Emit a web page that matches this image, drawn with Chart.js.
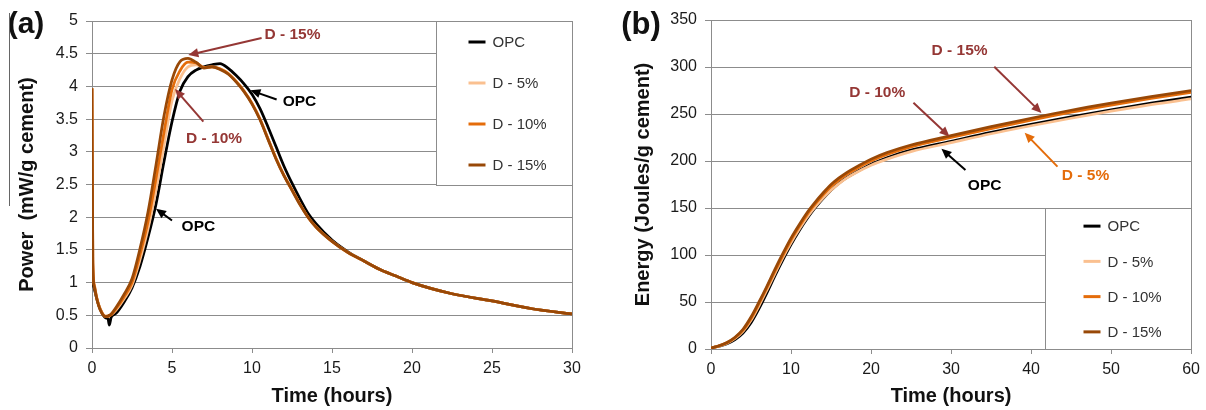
<!DOCTYPE html>
<html>
<head>
<meta charset="utf-8">
<script src="https://cdn.jsdelivr.net/npm/chart.js@4.4.1/dist/chart.umd.min.js"></script>
<style>
html,body{margin:0;padding:0;background:#fff;}
#wrap{position:relative;width:1206px;height:410px;overflow:hidden;}
.panel{position:absolute;top:0;width:603px;height:410px;}
#panelA{left:0;}
#panelB{left:603px;}
</style>
</head>
<body>
<div id="wrap">
  <div class="panel" id="panelA"><canvas id="powerChart" width="603" height="410"></canvas></div>
  <div class="panel" id="panelB"><canvas id="energyChart" width="603" height="410"></canvas></div>
</div>
<script>
const FONT = '"Liberation Sans", Arial, sans-serif';
const GRID = "#8c8c8c";

const seriesNames = ["OPC", "D - 5%", "D - 10%", "D - 15%"];
const seriesColors = ["#000000", "#FAC090", "#E46C0A", "#984807"];

// --- (a) heat flow, mW/g cement ---
const powerTime = [0, 0.05, 0.15, 0.3, 0.5, 0.85, 1.0, 1.08, 1.2, 1.5, 2, 2.5, 3, 3.5, 4, 4.5, 5, 5.5, 6, 6.5, 7, 7.5, 8, 8.5, 9, 9.5, 10, 10.5, 11, 11.5, 12, 12.5, 13, 13.5, 14, 15, 16, 17, 18, 19, 20, 22.5, 25, 27.5, 30];
const powerOPC = [1.1, 1.0, 0.9, 0.75, 0.6, 0.46, 0.45, 0.35, 0.47, 0.53, 0.7, 0.92, 1.25, 1.69, 2.2, 2.85, 3.46, 3.93, 4.15, 4.25, 4.3, 4.33, 4.35, 4.28, 4.17, 4.04, 3.88, 3.66, 3.38, 3.08, 2.78, 2.52, 2.28, 2.06, 1.9, 1.65, 1.47, 1.33, 1.2, 1.1, 1.0, 0.83, 0.72, 0.6, 0.52];
const powerD5 = [3.97, 1.4, 0.97, 0.77, 0.61, 0.49, 0.49, 0.5, 0.51, 0.58, 0.75, 0.96, 1.35, 1.82, 2.42, 3.1, 3.78, 4.12, 4.3, 4.33, 4.29, 4.3, 4.27, 4.2, 4.08, 3.93, 3.74, 3.5, 3.2, 2.9, 2.64, 2.42, 2.2, 2.0, 1.85, 1.63, 1.46, 1.33, 1.2, 1.1, 1.0, 0.83, 0.72, 0.6, 0.52];
const powerD10 = [3.97, 1.35, 0.95, 0.76, 0.6, 0.48, 0.485, 0.49, 0.51, 0.6, 0.78, 1.0, 1.43, 1.93, 2.59, 3.3, 3.95, 4.24, 4.37, 4.36, 4.29, 4.3, 4.27, 4.2, 4.08, 3.93, 3.74, 3.5, 3.2, 2.9, 2.64, 2.42, 2.2, 2.0, 1.85, 1.63, 1.46, 1.33, 1.2, 1.1, 1.0, 0.83, 0.72, 0.6, 0.52];
const powerD15 = [3.97, 1.3, 0.93, 0.75, 0.59, 0.48, 0.49, 0.5, 0.52, 0.62, 0.82, 1.06, 1.52, 2.08, 2.8, 3.55, 4.1, 4.38, 4.43, 4.37, 4.28, 4.3, 4.26, 4.19, 4.07, 3.92, 3.73, 3.49, 3.19, 2.89, 2.63, 2.41, 2.19, 2.0, 1.85, 1.63, 1.46, 1.33, 1.2, 1.1, 1.0, 0.83, 0.72, 0.6, 0.52];
const powerTicks = [0, 0.5, 1, 1.5, 2, 2.5, 3, 3.5, 4, 4.5, 5];
const hourTicksA = [0, 5, 10, 15, 20, 25, 30];

// --- (b) cumulative heat, J/g cement ---
const energyTime = [0, 1, 2, 3, 4, 5, 6, 7, 8, 9, 10, 11, 12, 13, 14, 15, 16, 17, 18, 20, 22, 25, 30, 35, 40, 45, 50, 55, 60];
const energyOPC = [1, 3, 5.6, 10, 17, 28, 43, 60, 78, 95, 111, 125.5, 138.5, 150, 160, 169, 176.5, 182.5, 187.5, 196.5, 203.5, 211.5, 221, 230.5, 239, 247, 254.5, 261.5, 268];
const energyD5 = [1, 3.2, 6.2, 11.2, 18.8, 30.5, 46, 63, 80.5, 97.5, 113, 127, 140, 151, 160.5, 169, 176, 182, 187, 195.5, 202, 210, 219.5, 229, 237.5, 245.5, 253, 260, 266];
const energyD10 = [1, 3.3, 6.6, 12, 20, 32.5, 48.5, 65.5, 83, 100, 116, 130, 143, 154, 164, 173, 180, 186, 191, 200, 207, 215, 225, 234.5, 243.5, 252, 259.5, 266.5, 273];
const energyD15 = [1, 3.5, 7, 12.5, 21, 34, 50, 67, 85, 102, 118, 132, 145, 156, 166, 175, 182, 188, 193, 202, 209, 217, 227, 236.5, 245.5, 254, 261.5, 268.5, 275];
const energyTicks = [0, 50, 100, 150, 200, 250, 300, 350];
const hourTicksB = [0, 10, 20, 30, 40, 50, 60];

// callouts, in data units: label centre, arrow start, arrow tip
const notesA = [
  { text: "D - 15%", color: "#953735", at: [12.53, 4.79], from: [10.6, 4.74], to: [6.02, 4.48] },
  { text: "OPC", color: "#000000", at: [12.97, 3.77], from: [11.54, 3.8], to: [9.9, 3.94] },
  { text: "D - 10%", color: "#953735", at: [7.63, 3.2], from: [6.96, 3.46], to: [5.19, 3.96] },
  { text: "OPC", color: "#000000", at: [6.65, 1.85], from: [5.0, 1.95], to: [4.0, 2.13] }
];
const notesB = [
  { text: "D - 15%", color: "#953735", at: [31.06, 317], from: [35.4, 300.3], to: [41.3, 251] },
  { text: "D - 10%", color: "#953735", at: [20.77, 272.3], from: [25.3, 262], to: [29.8, 226] },
  { text: "OPC", color: "#000000", at: [34.2, 173.4], from: [31.8, 190.4], to: [28.8, 213] },
  { text: "D - 5%", color: "#E46C0A", at: [46.8, 184], from: [43.3, 194], to: [39.2, 230] }
];

Chart.defaults.font.family = FONT;
Chart.defaults.color = "#1a1a1a";

function makeSets(time, lists){
  return lists.map((vals, i) => ({
    label: seriesNames[i],
    data: vals.map((v, k) => ({ x: time[k], y: v })),
    borderColor: seriesColors[i],
    backgroundColor: seriesColors[i],
    borderWidth: 2.75,
    pointRadius: 0,
    cubicInterpolationMode: "monotone",
    order: lists.length - i
  }));
}

function drawArrow(ctx, x0, y0, x1, y1, color){
  const ang = Math.atan2(y1 - y0, x1 - x0);
  const L = 10, W = 4.5;
  ctx.strokeStyle = color; ctx.fillStyle = color; ctx.lineWidth = 2;
  ctx.beginPath();
  ctx.moveTo(x0, y0);
  ctx.lineTo(x1 - L * 0.7 * Math.cos(ang), y1 - L * 0.7 * Math.sin(ang));
  ctx.stroke();
  ctx.beginPath();
  ctx.moveTo(x1, y1);
  ctx.lineTo(x1 - L * Math.cos(ang) + W * Math.sin(ang), y1 - L * Math.sin(ang) - W * Math.cos(ang));
  ctx.lineTo(x1 - L * Math.cos(ang) - W * Math.sin(ang), y1 - L * Math.sin(ang) + W * Math.cos(ang));
  ctx.closePath();
  ctx.fill();
}

// plot frame, boxed legend, callouts and panel letter
const decor = {
  id: "decor",
  beforeDatasetsDraw(chart, args, o){
    const { ctx, chartArea: a, scales } = chart;
    const xs = scales.x, ys = scales.y;
    ctx.save();
    ctx.strokeStyle = GRID; ctx.lineWidth = 1;
    ctx.beginPath();
    ctx.moveTo(Math.round(a.right) + 0.5, a.top);
    ctx.lineTo(Math.round(a.right) + 0.5, a.bottom);
    ctx.stroke();

    const bx = Math.round(xs.getPixelForValue(o.box[0])) + 0.5;
    const by = Math.round(ys.getPixelForValue(o.box[3])) + 0.5;
    const bw = Math.round(a.right) - bx + 0.5;
    const bh = Math.round(ys.getPixelForValue(o.box[2])) + 0.5 - by;
    ctx.fillStyle = "#fff";
    ctx.fillRect(bx, by, bw, bh);
    ctx.strokeRect(bx, by, bw, bh);

    ctx.font = "15px " + FONT;
    ctx.textBaseline = "middle";
    ctx.textAlign = "left";
    seriesNames.forEach((name, i) => {
      const ry = by + (i + 0.5) * bh / seriesNames.length;
      const sx = bx + o.sampleX;
      ctx.strokeStyle = seriesColors[i];
      ctx.lineWidth = 3;
      ctx.beginPath(); ctx.moveTo(sx, ry); ctx.lineTo(sx + 17, ry); ctx.stroke();
      ctx.fillStyle = "#333";
      ctx.fillText(name, sx + 24, ry + 1);
    });
    ctx.restore();
  },
  afterDatasetsDraw(chart, args, o){
    const { ctx, scales } = chart;
    const xs = scales.x, ys = scales.y;
    ctx.save();
    o.notes.forEach(n => {
      drawArrow(ctx,
        xs.getPixelForValue(n.from[0]), ys.getPixelForValue(n.from[1]),
        xs.getPixelForValue(n.to[0]), ys.getPixelForValue(n.to[1]), n.color);
      ctx.fillStyle = n.color;
      ctx.font = "bold 15.5px " + FONT;
      ctx.textAlign = "center";
      ctx.textBaseline = "middle";
      ctx.fillText(n.text, xs.getPixelForValue(n.at[0]), ys.getPixelForValue(n.at[1]));
    });
    ctx.fillStyle = "#111";
    ctx.font = "bold " + o.letterSize + "px " + FONT;
    ctx.textAlign = "center";
    ctx.textBaseline = "middle";
    ctx.fillText(o.letter, o.letterX, 25);
    if (o.rule) {
      ctx.strokeStyle = "#666"; ctx.lineWidth = 1;
      ctx.beginPath(); ctx.moveTo(9.5, 13); ctx.lineTo(9.5, 206); ctx.stroke();
    }
    ctx.restore();
  }
};

function makeChart(id, cfg){
  return new Chart(document.getElementById(id), {
    type: "line",
    data: { datasets: makeSets(cfg.time, cfg.series) },
    options: {
      responsive: false,
      animation: false,
      layout: { padding: cfg.pad },
      plugins: { legend: { display: false }, tooltip: { enabled: false }, decor: cfg.decor },
      scales: {
        x: {
          type: "linear", min: cfg.xTicks[0], max: cfg.xTicks[cfg.xTicks.length - 1],
          afterBuildTicks: s => { s.ticks = cfg.xTicks.map(v => ({ value: v })); },
          afterFit: s => { s.height = cfg.xHeight; },
          grid: { drawOnChartArea: false, tickLength: 5, tickColor: GRID },
          border: { color: GRID },
          ticks: { font: { size: 16 }, padding: 6, maxRotation: 0, callback: v => String(v) },
          title: { display: true, text: "Time (hours)", font: { size: 20, weight: "bold" }, color: "#111", padding: { top: 0, bottom: 2 } }
        },
        y: {
          min: cfg.yTicks[0], max: cfg.yTicks[cfg.yTicks.length - 1],
          afterBuildTicks: s => { s.ticks = cfg.yTicks.map(v => ({ value: v })); },
          afterFit: s => { s.width = cfg.yWidth; },
          grid: { color: GRID, tickLength: 6, tickColor: GRID },
          border: { color: GRID },
          ticks: { font: { size: 16 }, padding: 8, callback: v => String(v) },
          title: { display: true, text: cfg.yTitle, font: { size: 20, weight: "bold" }, color: "#111", padding: { top: cfg.yTitlePad, bottom: 0 } }
        }
      }
    },
    plugins: [decor]
  });
}

makeChart("powerChart", {
  time: powerTime,
  series: [powerOPC, powerD5, powerD10, powerD15],
  xTicks: hourTicksA, yTicks: powerTicks,
  pad: { left: 0, right: 31, top: 21, bottom: 0 },
  xHeight: 62, yWidth: 92, yTitlePad: 15,
  yTitle: "Power  (mW/g cement)",
  decor: { box: [21.5, 30, 2.5, 5], sampleX: 32, notes: notesA, letter: "(a)", letterX: 26, letterSize: 30, rule: true }
});

makeChart("energyChart", {
  time: energyTime,
  series: [energyOPC, energyD5, energyD10, energyD15],
  xTicks: hourTicksB, yTicks: energyTicks,
  pad: { left: 0, right: 14, top: 20, bottom: 0 },
  xHeight: 61, yWidth: 108, yTitlePad: 28,
  yTitle: "Energy (Joules/g cement)",
  decor: { box: [41.8, 60, 0, 150], sampleX: 38, notes: notesB, letter: "(b)", letterX: 38, letterSize: 31, rule: false }
});
</script>
</body>
</html>
